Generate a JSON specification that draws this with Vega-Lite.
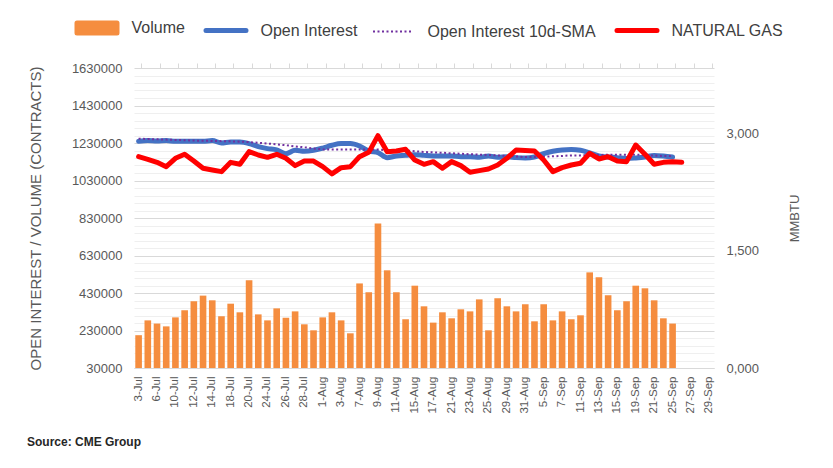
{
  "$schema": "https://vega.github.io/schema/vega-lite/v6.json",
  "autosize": "none",
  "width": 580,
  "height": 300,
  "padding": {"left": 134, "top": 68, "right": 119, "bottom": 100},
  "background": "white",
  "config": {"font": "Liberation Sans", "view": {"stroke": null}},
  "title": {"text": "Source: CME Group", "orient": "bottom", "anchor": "start", "frame": "group", "fontSize": 12, "fontWeight": "bold", "color": "#262626", "dx": -107, "offset": 24},
  "data": {"values": [
    {"d": "3-Jul", "vol": 205000, "oi": 1239000, "sma": 1253000, "gas": 2.706},
    {"d": "5-Jul", "vol": 284000, "oi": 1243000, "sma": 1251000, "gas": 2.672},
    {"d": "6-Jul", "vol": 267000, "oi": 1241000, "sma": 1250000, "gas": 2.633},
    {"d": "7-Jul", "vol": 252000, "oi": 1243000, "sma": 1248000, "gas": 2.578},
    {"d": "10-Jul", "vol": 300000, "oi": 1239000, "sma": 1246000, "gas": 2.685},
    {"d": "11-Jul", "vol": 338000, "oi": 1239000, "sma": 1245000, "gas": 2.736},
    {"d": "12-Jul", "vol": 386000, "oi": 1239000, "sma": 1243000, "gas": 2.650},
    {"d": "13-Jul", "vol": 416000, "oi": 1239000, "sma": 1242000, "gas": 2.557},
    {"d": "14-Jul", "vol": 391000, "oi": 1243000, "sma": 1241000, "gas": 2.535},
    {"d": "17-Jul", "vol": 306000, "oi": 1230000, "sma": 1240000, "gas": 2.514},
    {"d": "18-Jul", "vol": 373000, "oi": 1235000, "sma": 1239000, "gas": 2.633},
    {"d": "19-Jul", "vol": 327000, "oi": 1235000, "sma": 1237000, "gas": 2.608},
    {"d": "20-Jul", "vol": 498000, "oi": 1227000, "sma": 1235000, "gas": 2.770},
    {"d": "21-Jul", "vol": 316000, "oi": 1211000, "sma": 1231000, "gas": 2.727},
    {"d": "24-Jul", "vol": 284000, "oi": 1200000, "sma": 1227000, "gas": 2.697},
    {"d": "25-Jul", "vol": 348000, "oi": 1193000, "sma": 1223000, "gas": 2.736},
    {"d": "26-Jul", "vol": 298000, "oi": 1173000, "sma": 1218000, "gas": 2.685},
    {"d": "27-Jul", "vol": 332000, "oi": 1191000, "sma": 1212000, "gas": 2.591},
    {"d": "28-Jul", "vol": 263000, "oi": 1186000, "sma": 1207000, "gas": 2.650},
    {"d": "31-Jul", "vol": 231000, "oi": 1191000, "sma": 1201000, "gas": 2.650},
    {"d": "1-Aug", "vol": 300000, "oi": 1203000, "sma": 1196000, "gas": 2.578},
    {"d": "2-Aug", "vol": 327000, "oi": 1218000, "sma": 1196000, "gas": 2.485},
    {"d": "3-Aug", "vol": 284000, "oi": 1227000, "sma": 1196000, "gas": 2.565},
    {"d": "4-Aug", "vol": 215000, "oi": 1227000, "sma": 1196000, "gas": 2.578},
    {"d": "7-Aug", "vol": 481000, "oi": 1214000, "sma": 1196000, "gas": 2.706},
    {"d": "8-Aug", "vol": 434000, "oi": 1187000, "sma": 1196000, "gas": 2.761},
    {"d": "9-Aug", "vol": 801000, "oi": 1179000, "sma": 1195000, "gas": 2.975},
    {"d": "10-Aug", "vol": 551000, "oi": 1152000, "sma": 1192000, "gas": 2.770},
    {"d": "11-Aug", "vol": 434000, "oi": 1161000, "sma": 1191000, "gas": 2.779},
    {"d": "14-Aug", "vol": 290000, "oi": 1164000, "sma": 1190000, "gas": 2.800},
    {"d": "15-Aug", "vol": 469000, "oi": 1168000, "sma": 1186000, "gas": 2.663},
    {"d": "16-Aug", "vol": 359000, "oi": 1164000, "sma": 1182000, "gas": 2.608},
    {"d": "17-Aug", "vol": 272000, "oi": 1161000, "sma": 1180000, "gas": 2.642},
    {"d": "18-Aug", "vol": 327000, "oi": 1161000, "sma": 1178000, "gas": 2.557},
    {"d": "21-Aug", "vol": 295000, "oi": 1161000, "sma": 1175000, "gas": 2.642},
    {"d": "22-Aug", "vol": 343000, "oi": 1157000, "sma": 1173000, "gas": 2.591},
    {"d": "23-Aug", "vol": 332000, "oi": 1157000, "sma": 1170000, "gas": 2.506},
    {"d": "24-Aug", "vol": 396000, "oi": 1154000, "sma": 1168000, "gas": 2.527},
    {"d": "25-Aug", "vol": 231000, "oi": 1161000, "sma": 1166000, "gas": 2.548},
    {"d": "28-Aug", "vol": 402000, "oi": 1154000, "sma": 1164000, "gas": 2.599},
    {"d": "29-Aug", "vol": 359000, "oi": 1157000, "sma": 1161000, "gas": 2.685},
    {"d": "30-Aug", "vol": 332000, "oi": 1152000, "sma": 1158000, "gas": 2.791},
    {"d": "31-Aug", "vol": 370000, "oi": 1150000, "sma": 1155000, "gas": 2.785},
    {"d": "1-Sep", "vol": 279000, "oi": 1155000, "sma": 1155000, "gas": 2.779},
    {"d": "5-Sep", "vol": 370000, "oi": 1173000, "sma": 1157000, "gas": 2.663},
    {"d": "6-Sep", "vol": 284000, "oi": 1186000, "sma": 1159000, "gas": 2.514},
    {"d": "7-Sep", "vol": 332000, "oi": 1193000, "sma": 1161000, "gas": 2.565},
    {"d": "8-Sep", "vol": 290000, "oi": 1195000, "sma": 1164000, "gas": 2.599},
    {"d": "11-Sep", "vol": 311000, "oi": 1191000, "sma": 1164000, "gas": 2.621},
    {"d": "12-Sep", "vol": 540000, "oi": 1177000, "sma": 1165000, "gas": 2.749},
    {"d": "13-Sep", "vol": 514000, "oi": 1161000, "sma": 1166000, "gas": 2.676},
    {"d": "14-Sep", "vol": 418000, "oi": 1155000, "sma": 1168000, "gas": 2.706},
    {"d": "15-Sep", "vol": 338000, "oi": 1152000, "sma": 1168000, "gas": 2.650},
    {"d": "18-Sep", "vol": 386000, "oi": 1147000, "sma": 1168000, "gas": 2.642},
    {"d": "19-Sep", "vol": 469000, "oi": 1150000, "sma": 1168000, "gas": 2.855},
    {"d": "20-Sep", "vol": 455000, "oi": 1155000, "sma": 1165000, "gas": 2.736},
    {"d": "21-Sep", "vol": 391000, "oi": 1164000, "sma": 1163000, "gas": 2.608},
    {"d": "22-Sep", "vol": 295000, "oi": 1161000, "sma": 1161000, "gas": 2.633},
    {"d": "25-Sep", "vol": 267000, "oi": 1155000, "sma": 1160000, "gas": 2.642},
    {"d": "26-Sep", "vol": null, "oi": null, "sma": null, "gas": 2.633},
    {"d": "27-Sep", "vol": null, "oi": null, "sma": null, "gas": null},
    {"d": "28-Sep", "vol": null, "oi": null, "sma": null, "gas": null},
    {"d": "29-Sep", "vol": null, "oi": null, "sma": null, "gas": null}
  ]},
  "layer": [
    {
      "mark": {"type": "bar"},
      "encoding": {
        "x": {
          "field": "d", "type": "nominal", "sort": null,
          "scale": {
            "domain": ["3-Jul","5-Jul","6-Jul","7-Jul","10-Jul","11-Jul","12-Jul","13-Jul","14-Jul","17-Jul","18-Jul","19-Jul","20-Jul","21-Jul","24-Jul","25-Jul","26-Jul","27-Jul","28-Jul","31-Jul","1-Aug","2-Aug","3-Aug","4-Aug","7-Aug","8-Aug","9-Aug","10-Aug","11-Aug","14-Aug","15-Aug","16-Aug","17-Aug","18-Aug","21-Aug","22-Aug","23-Aug","24-Aug","25-Aug","28-Aug","29-Aug","30-Aug","31-Aug","1-Sep","5-Sep","6-Sep","7-Sep","8-Sep","11-Sep","12-Sep","13-Sep","14-Sep","15-Sep","18-Sep","19-Sep","20-Sep","21-Sep","22-Sep","25-Sep","26-Sep","27-Sep","28-Sep","29-Sep"],
            "paddingInner": 0.28, "paddingOuter": 0.14
          },
          "axis": {
            "values": ["3-Jul","6-Jul","10-Jul","12-Jul","14-Jul","18-Jul","20-Jul","24-Jul","26-Jul","28-Jul","1-Aug","3-Aug","7-Aug","9-Aug","11-Aug","15-Aug","17-Aug","21-Aug","23-Aug","25-Aug","29-Aug","31-Aug","5-Sep","7-Sep","11-Sep","13-Sep","15-Sep","19-Sep","21-Sep","25-Sep","27-Sep","29-Sep"],
            "labelAngle": 270, "ticks": false, "domainColor": "#d9d9d9", "labelColor": "#595959",
            "labelFontSize": 11.5, "labelPadding": 8, "title": null, "grid": false, "bandPosition": 0.5
          }
        },
        "y": {
          "field": "vol", "type": "quantitative",
          "scale": {"domain": [30000, 1630000], "zero": false, "nice": false},
          "axis": {
            "orient": "left",
            "values": [30000,70000,110000,150000,190000,230000,270000,310000,350000,390000,430000,470000,510000,550000,590000,630000,670000,710000,750000,790000,830000,870000,910000,950000,990000,1030000,1070000,1110000,1150000,1190000,1230000,1270000,1310000,1350000,1390000,1430000,1470000,1510000,1550000,1590000,1630000],
            "format": "d",
            "labelExpr": "(datum.value - 30000) % 200000 === 0 ? datum.label : ''",
            "gridColor": {"condition": {"test": "(datum.value - 30000) % 200000 === 0", "value": "#d9d9d9"}, "value": "#efefef"},
            "ticks": false, "domain": false, "labelColor": "#595959", "labelFontSize": 13, "labelPadding": 12,
            "title": "OPEN INTEREST / VOLUME (CONTRACTS)", "titleFontSize": 15, "titleFontWeight": "normal",
            "titleColor": "#595959", "titlePadding": 28
          }
        },
        "y2": {"datum": 30000},
        "color": {
          "datum": "Volume",
          "scale": {"domain": ["Volume","Open Interest","Open Interest 10d-SMA","NATURAL GAS"], "range": ["#F58D3F","#4472C4","#7030A0","#FF0000"]},
          "legend": {
            "orient": "none", "legendX": -45, "legendY": -48, "direction": "horizontal", "columns": 4,
            "title": null, "labelFontSize": 16, "labelColor": "#404040", "labelOffset": 26.5, "columnPadding": 11,
            "labelLimit": 400,
            "symbolSize": 1600, "symbolType": "stroke", "symbolStrokeWidth": 5,
            "encode": {
              "symbols": {
                "update": {
                  "shape": {"signal": "datum.value === 'Volume' ? 'M-1,-0.25H1V0.25H-1Z' : 'stroke'"},
                  "fill": {"signal": "datum.value === 'Volume' ? '#F58D3F' : 'transparent'"},
                  "stroke": {"signal": "datum.value === 'Volume' ? 'transparent' : datum.value === 'Open Interest' ? '#4472C4' : datum.value === 'NATURAL GAS' ? '#FF0000' : '#7030A0'"},
                  "strokeWidth": {"signal": "datum.value === 'Open Interest 10d-SMA' ? 2 : 5"},
                  "strokeDash": {"signal": "datum.value === 'Open Interest 10d-SMA' ? [2, 2.5] : [1, 0]"},
                  "strokeCap": {"signal": "datum.value === 'Open Interest 10d-SMA' ? 'butt' : 'round'"},
                  "opacity": {"value": 1}
                }
              }
            }
          }
        }
      }
    },
    {
      "mark": {"type": "line", "strokeWidth": 5, "interpolate": "monotone", "strokeCap": "round", "strokeJoin": "round"},
      "encoding": {
        "x": {"field": "d", "type": "nominal", "sort": null, "axis": null},
        "y": {"field": "oi", "type": "quantitative", "scale": {"domain": [30000, 1630000], "zero": false, "nice": false}, "axis": null},
        "color": {"datum": "Open Interest"}
      }
    },
    {
      "mark": {"type": "line", "strokeWidth": 2, "strokeDash": [2, 2.5]},
      "encoding": {
        "x": {"field": "d", "type": "nominal", "sort": null, "axis": null},
        "y": {"field": "sma", "type": "quantitative", "scale": {"domain": [30000, 1630000], "zero": false, "nice": false}, "axis": null},
        "color": {"datum": "Open Interest 10d-SMA"}
      }
    },
    {
      "mark": {"type": "line", "strokeWidth": 5, "strokeCap": "round", "strokeJoin": "round"},
      "encoding": {
        "x": {
          "field": "d", "type": "nominal", "sort": null,
          "axis": {
            "values": ["3-Jul","6-Jul","10-Jul","12-Jul","14-Jul","18-Jul","20-Jul","24-Jul","26-Jul","28-Jul","1-Aug","3-Aug","7-Aug","9-Aug","11-Aug","15-Aug","17-Aug","21-Aug","23-Aug","25-Aug","29-Aug","31-Aug","5-Sep","7-Sep","11-Sep","13-Sep","15-Sep","19-Sep","21-Sep","25-Sep","27-Sep","29-Sep"],
            "labels": false, "domain": false, "ticks": true, "tickSize": 5, "tickColor": "#d9d9d9",
            "bandPosition": 1, "title": null, "grid": false
          }
        },
        "y": {
          "field": "gas", "type": "quantitative",
          "scale": {"domain": [0, 3.841], "zero": false, "nice": false},
          "axis": {
            "orient": "right", "values": [0, 1.5, 3],
            "labelExpr": "replace(format(datum.value, '.3f'), '.', ',')",
            "grid": false, "ticks": false, "domain": false, "labelColor": "#595959", "labelFontSize": 13,
            "labelPadding": 12, "title": "MMBTU", "titleAngle": 270, "titleFontSize": 13, "titleFontWeight": "normal",
            "titleColor": "#595959", "titlePadding": 43
          }
        },
        "color": {"datum": "NATURAL GAS"}
      }
    }
  ],
  "resolve": {"scale": {"y": "independent"}, "axis": {"x": "independent"}}
}
